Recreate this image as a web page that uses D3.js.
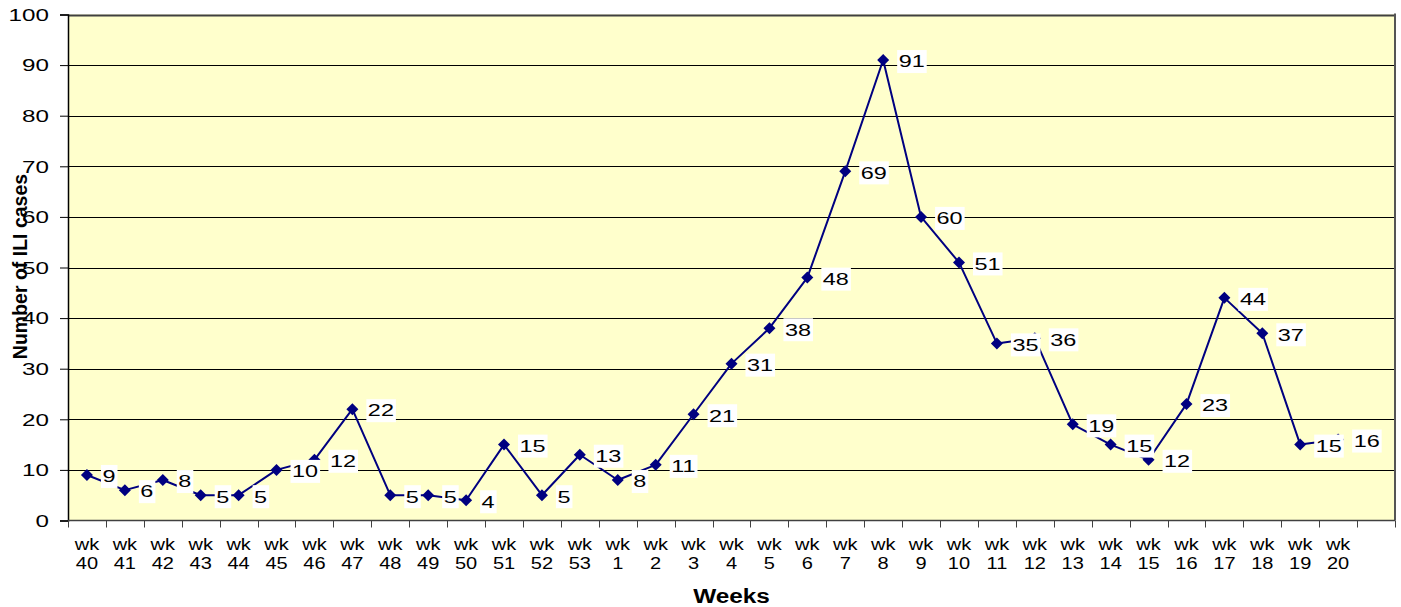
<!DOCTYPE html>
<html>
<head>
<meta charset="utf-8">
<script src="https://cdn.jsdelivr.net/npm/d3@7"></script>
<style>
  html, body { margin: 0; padding: 0; background: #fff; }
  svg { display: block; font-family: "Liberation Sans", Arial, sans-serif; }
</style>
</head>
<body>
<svg id="chart" width="1401" height="607"></svg>
<script>
// ---- data ----
const categories = ["wk 40","wk 41","wk 42","wk 43","wk 44","wk 45","wk 46","wk 47","wk 48","wk 49",
  "wk 50","wk 51","wk 52","wk 53","wk 1","wk 2","wk 3","wk 4","wk 5","wk 6","wk 7","wk 8","wk 9",
  "wk 10","wk 11","wk 12","wk 13","wk 14","wk 15","wk 16","wk 17","wk 18","wk 19","wk 20",""];
const cases = [9,6,8,5,5,10,12,22,5,5,4,15,5,13,8,11,21,31,38,48,69,91,60,51,35,36,19,15,12,23,44,37,15,16];
const yTicks = [0,10,20,30,40,50,60,70,80,90,100];
const xTitle = "Weeks";
const yTitle = "Number of ILI cases";

// ---- layout ----
const svg = d3.select("#chart");
const L = 68, R = 1395, T = 14.5, B = 520.5;

const x = d3.scaleBand().domain(categories).range([L, R]).paddingInner(0).paddingOuter(0);
const y = d3.scaleLinear().domain([0, 100]).range([B, T]);
const cx = c => x(c) + x.bandwidth() / 2;

// plot background
svg.append("rect").attr("x", L).attr("y", T).attr("width", R - L).attr("height", B - T)
  .attr("fill", "#FFFFCC");

// gridlines
svg.append("g").selectAll("line").data(yTicks.filter(v => v > 0)).join("line")
  .attr("x1", L).attr("x2", R).attr("y1", d => Math.round(y(d)) + 0.5).attr("y2", d => Math.round(y(d)) + 0.5)
  .attr("stroke", d => d === 100 ? "#404040" : "#000").attr("stroke-width", d => d === 100 ? 2 : 1);

// right border
svg.append("line").attr("x1", R).attr("x2", R).attr("y1", T - 1).attr("y2", B)
  .attr("stroke", "#555").attr("stroke-width", 2);

// stretched text helper
function stext(g, txt, tx, ty, size, sx, anchor, weight) {
  const t = g.append("text")
    .attr("transform", `translate(${tx},${ty}) scale(${sx},1)`)
    .attr("font-size", size).attr("text-anchor", anchor || "start")
    .attr("font-weight", weight || "normal").attr("fill", "#000").text(txt);
  return t;
}

// y axis
const yAxis = d3.axisLeft(y).tickValues(yTicks).tickSize(8).tickFormat("");
const yg = svg.append("g").attr("transform", `translate(${L},0)`).call(yAxis);
yg.select(".domain").attr("stroke", "#000").attr("stroke-width", 1.5);
yg.selectAll(".tick line").attr("stroke", "#000");
const ylab = svg.append("g");
yTicks.forEach(v => stext(ylab, String(v), 49, y(v) + 6.3, 17.3, 1.4, "end"));

// x axis (ticks at category boundaries)
const bounds = categories.map(c => x(c)).concat([R]);
svg.append("line").attr("x1", L).attr("x2", R).attr("y1", B).attr("y2", B)
  .attr("stroke", "#404040").attr("stroke-width", 1.5);
svg.append("g").selectAll("line").data(bounds).join("line")
  .attr("x1", d => Math.round(d) + 0.5).attr("x2", d => Math.round(d) + 0.5)
  .attr("y1", B).attr("y2", B + 7).attr("stroke", "#404040");
const xlab = svg.append("g");
categories.forEach(c => {
  if (!c) return;
  const parts = c.split(" ");
  stext(xlab, parts[0], cx(c), 550, 16, 1.25, "middle");
  stext(xlab, parts[1], cx(c), 569, 16, 1.25, "middle");
});

// titles
stext(svg, xTitle, 731.5, 603, 19.5, 1.25, "middle", "bold");
svg.append("text")
  .attr("transform", `translate(27,266.5) rotate(-90)`)
  .attr("text-anchor", "middle").attr("font-size", 19.5).attr("font-weight", "bold")
  .attr("fill", "#000").text(yTitle);

// series
const pts = cases.map((v, i) => ({ c: categories[i], v }));
const line = d3.line().x(d => cx(d.c)).y(d => y(d.v));
svg.append("path").datum(pts).attr("d", line)
  .attr("fill", "none").attr("stroke", "#000080").attr("stroke-width", 2).attr("stroke-linejoin", "round");

const sym = d3.symbol().type(d3.symbolSquare).size(72);
svg.append("g").selectAll("path").data(pts).join("path")
  .attr("d", sym)
  .attr("transform", d => `translate(${cx(d.c)},${y(d.v)}) rotate(45)`)
  .attr("fill", "#000080");

// data labels with white boxes
const lg = svg.append("g");
pts.forEach(d => {
  const px = cx(d.c), py = y(d.v);
  const box = lg.append("rect").attr("fill", "#fff");
  const t = stext(lg, String(d.v), px + 15.5, py + 7.3, 16.5, 1.42, "start");
  const w = t.node().getComputedTextLength() * 1.42;
  box.attr("x", px + 14).attr("y", py - 10).attr("width", w + 3.5).attr("height", 23);
});
</script>
</body>
</html>
